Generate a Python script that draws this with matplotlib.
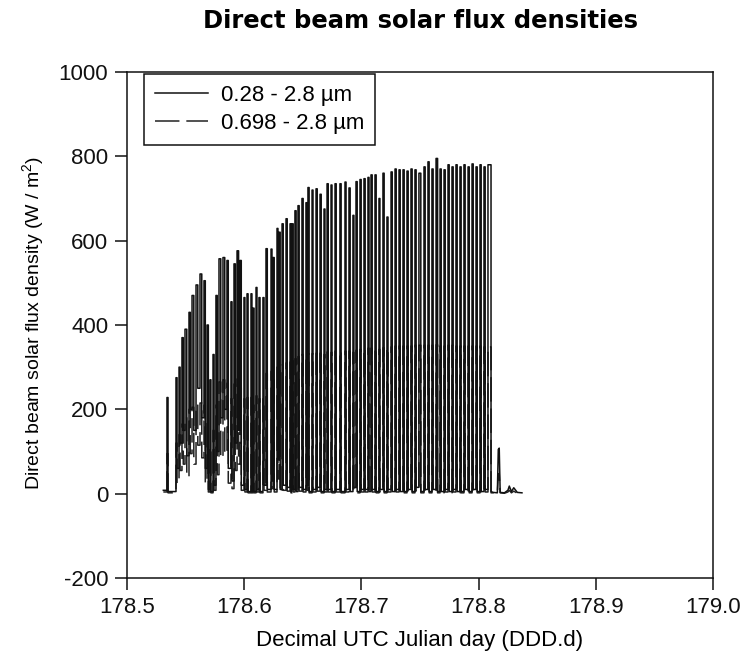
import matplotlib
matplotlib.use("Agg")
import matplotlib.pyplot as plt

plt.rcParams['font.family'] = ['Liberation Sans', 'DejaVu Sans']
plt.rcParams['mathtext.fontset'] = 'custom'
plt.rcParams['mathtext.rm'] = 'Liberation Sans'
plt.rcParams['axes.unicode_minus'] = False

# start of record (before first sunny spell)
start_t = 178.5310
start_total = 8
start_red = 4

# sunny spells: start / end time, plateau of each band,
# value the trace falls back to afterwards
pulse_start = [
    178.5341, 178.5418, 178.5444, 178.5469, 178.5495, 178.5529, 178.5555, 178.5589, 178.5623, 178.5657,
    178.5683, 178.5708, 178.5734, 178.5759, 178.5785, 178.5819, 178.5853, 178.5887, 178.5913, 178.5939,
    178.5964, 178.5998, 178.6024, 178.6058, 178.6075, 178.6101, 178.6126, 178.6160, 178.6186, 178.6229,
    178.6246, 178.6280, 178.6297, 178.6323, 178.6357, 178.6391, 178.6408, 178.6433, 178.6459, 178.6493,
    178.6527, 178.6544, 178.6579, 178.6613, 178.6647, 178.6681, 178.6707, 178.6741, 178.6775, 178.6817,
    178.6860, 178.6894, 178.6928, 178.6954, 178.6988, 178.7022, 178.7056, 178.7082, 178.7116, 178.7150,
    178.7184, 178.7218, 178.7253, 178.7287, 178.7321, 178.7355, 178.7389, 178.7423, 178.7457, 178.7491,
    178.7534, 178.7568, 178.7602, 178.7637, 178.7671, 178.7705, 178.7739, 178.7773, 178.7807, 178.7841,
    178.7875, 178.7910, 178.7944, 178.7978, 178.8012, 178.8046, 178.8080,
]
pulse_end = [
    178.5350, 178.5427, 178.5453, 178.5480, 178.5510, 178.5540, 178.5570, 178.5604, 178.5638, 178.5668,
    178.5694, 178.5716, 178.5743, 178.5770, 178.5800, 178.5834, 178.5864, 178.5896, 178.5924, 178.5952,
    178.5975, 178.6006, 178.6033, 178.6066, 178.6084, 178.6109, 178.6135, 178.6169, 178.6197, 178.6237,
    178.6256, 178.6288, 178.6307, 178.6333, 178.6367, 178.6399, 178.6418, 178.6443, 178.6469, 178.6503,
    178.6535, 178.6554, 178.6587, 178.6623, 178.6657, 178.6689, 178.6717, 178.6749, 178.6785, 178.6827,
    178.6869, 178.6904, 178.6936, 178.6964, 178.6998, 178.7032, 178.7065, 178.7092, 178.7126, 178.7158,
    178.7194, 178.7227, 178.7263, 178.7297, 178.7331, 178.7365, 178.7399, 178.7433, 178.7467, 178.7507,
    178.7544, 178.7578, 178.7612, 178.7650, 178.7681, 178.7715, 178.7749, 178.7783, 178.7817, 178.7851,
    178.7885, 178.7920, 178.7954, 178.7988, 178.8022, 178.8056, 178.8106,
]
total_peak = [
    228, 275, 300, 370, 390, 430, 470, 495, 521, 505,
    400, 270, 330, 470, 557, 560, 553, 455, 545, 576,
    553, 465, 474, 474, 440, 489, 465, 465, 581, 580,
    560, 629, 620, 640, 652, 640, 640, 671, 683, 700,
    690, 726, 720, 723, 710, 675, 735, 732, 735, 735,
    739, 725, 660, 740, 745, 747, 750, 756, 756, 700,
    760, 656, 763, 770, 768, 768, 765, 770, 768, 760,
    775, 787, 770, 795, 770, 768, 780, 775, 780, 775,
    780, 775, 782, 775, 780, 775, 780,
]
total_trough = [
    5, 60, 120, 150, 90, 200, 150, 250, 180, 60,
    10, 5, 20, 100, 180, 200, 60, 30, 120, 150,
    20, 10, 5, 5, 5, 10, 5, 20, 10, 30,
    10, 80, 10, 20, 15, 5, 10, 5, 15, 10,
    20, 5, 10, 15, 5, 10, 10, 5, 10, 5,
    10, 5, 15, 5, 10, 10, 5, 10, 5, 10,
    5, 10, 5, 10, 5, 5, 10, 5, 15, 5,
    10, 5, 10, 5, 5, 10, 5, 10, 5, 5,
    10, 5, 10, 5, 5, 10, 5,
]
red_peak = [
    95, 120, 140, 165, 180, 200, 205, 210, 215, 210,
    180, 110, 150, 210, 265, 270, 262, 225, 260, 272,
    268, 225, 228, 228, 210, 232, 225, 225, 285, 290,
    285, 300, 300, 305, 310, 312, 315, 320, 325, 330,
    330, 332, 332, 333, 333, 330, 336, 335, 338, 338,
    338, 338, 335, 340, 342, 344, 345, 345, 345, 342,
    346, 345, 348, 350, 350, 350, 350, 350, 352, 352,
    352, 352, 352, 353, 350, 350, 352, 352, 350, 350,
    350, 350, 350, 350, 350, 348, 348,
]
red_trough = [
    2, 25, 55, 70, 40, 95, 70, 115, 85, 25,
    4, 2, 8, 45, 85, 95, 25, 12, 55, 70,
    8, 4, 2, 2, 2, 4, 2, 8, 4, 12,
    4, 35, 4, 8, 6, 2, 4, 2, 6, 4,
    8, 2, 4, 6, 2, 4, 4, 2, 4, 2,
    4, 2, 6, 2, 4, 4, 2, 4, 2, 4,
    2, 4, 2, 4, 2, 2, 4, 2, 6, 2,
    4, 2, 4, 2, 2, 4, 2, 4, 2, 2,
    4, 2, 4, 2, 2, 4, 2,
]

# end of record after the last spell
tail_t = [178.8125, 178.8160, 178.8168, 178.8176, 178.8184, 178.8220,
          178.8250, 178.8262, 178.8280, 178.8300, 178.8330, 178.8370]
tail_total = [3, 2, 105, 108, 3, 2, 8, 18, 5, 14, 3, 2]
tail_red = [2, 1, 45, 48, 2, 1, 4, 8, 2, 6, 1, 1]


def build_trace(v0, peaks, troughs, tail_v):
    xs, ys = [start_t], [v0]
    prev = v0
    for s, e, p, tr in zip(pulse_start, pulse_end, peaks, troughs):
        xs += [s, s, e, e]
        ys += [prev, p, p, tr]
        prev = tr
    return xs + tail_t, ys + tail_v


tx, ty = build_trace(start_total, total_peak, total_trough, tail_total)
rx, ry = build_trace(start_red, red_peak, red_trough, tail_red)

fig = plt.figure(figsize=(7.41, 6.56), dpi=100)
ax = fig.add_axes([127 / 741, 1 - 578 / 656, 586 / 741, 506 / 656])

ax.plot(rx, ry, color='#222222', lw=1.1, linestyle=(0, (16, 4.5)),
        label='0.698 - 2.8 \u00b5m', zorder=2)
ax.plot(tx, ty, color='#111111', lw=1.1, label='0.28 - 2.8 \u00b5m', zorder=3)

ax.set_xlim(178.5, 179.0)
ax.set_ylim(-200, 1000)
ax.set_xticks([178.5, 178.6, 178.7, 178.8, 178.9, 179.0])
ax.set_xticklabels(['178.5', '178.6', '178.7', '178.8', '178.9', '179.0'])
ax.set_yticks([-200, 0, 200, 400, 600, 800, 1000])
ax.tick_params(direction='out', length=8.5, width=1.1, labelsize=16,
               pad=5, colors='#111111')
for sp in ax.spines.values():
    sp.set_linewidth(1.1)
    sp.set_color('#111111')

ax.set_xlabel('Decimal UTC Julian day (DDD.d)', fontsize=16, va='center')
ax.xaxis.set_label_coords(0.5, -0.1245)
ax.set_ylabel(r'Direct beam solar flux density (W / m$^\mathregular{2}$)',
              fontsize=14, va='center')
ax.yaxis.set_label_coords(-0.160, 0.504)
fig.text(0.5669, 1 - 21 / 656, 'Direct beam solar flux densities',
         fontsize=17.5, fontweight='bold', family='DejaVu Sans',
         ha='center', va='center')

h, l = ax.get_legend_handles_labels()
leg = ax.legend(h[::-1], l[::-1], loc='upper left', bbox_to_anchor=(0.029, 0.996),
                borderaxespad=0, fontsize=16, handlelength=2.4, handletextpad=0.55,
                labelspacing=0.3, borderpad=0.5, fancybox=False, framealpha=1)
leg.get_frame().set_edgecolor('#111111')
leg.get_frame().set_linewidth(1.1)

fig.savefig('out.png', dpi=100)
